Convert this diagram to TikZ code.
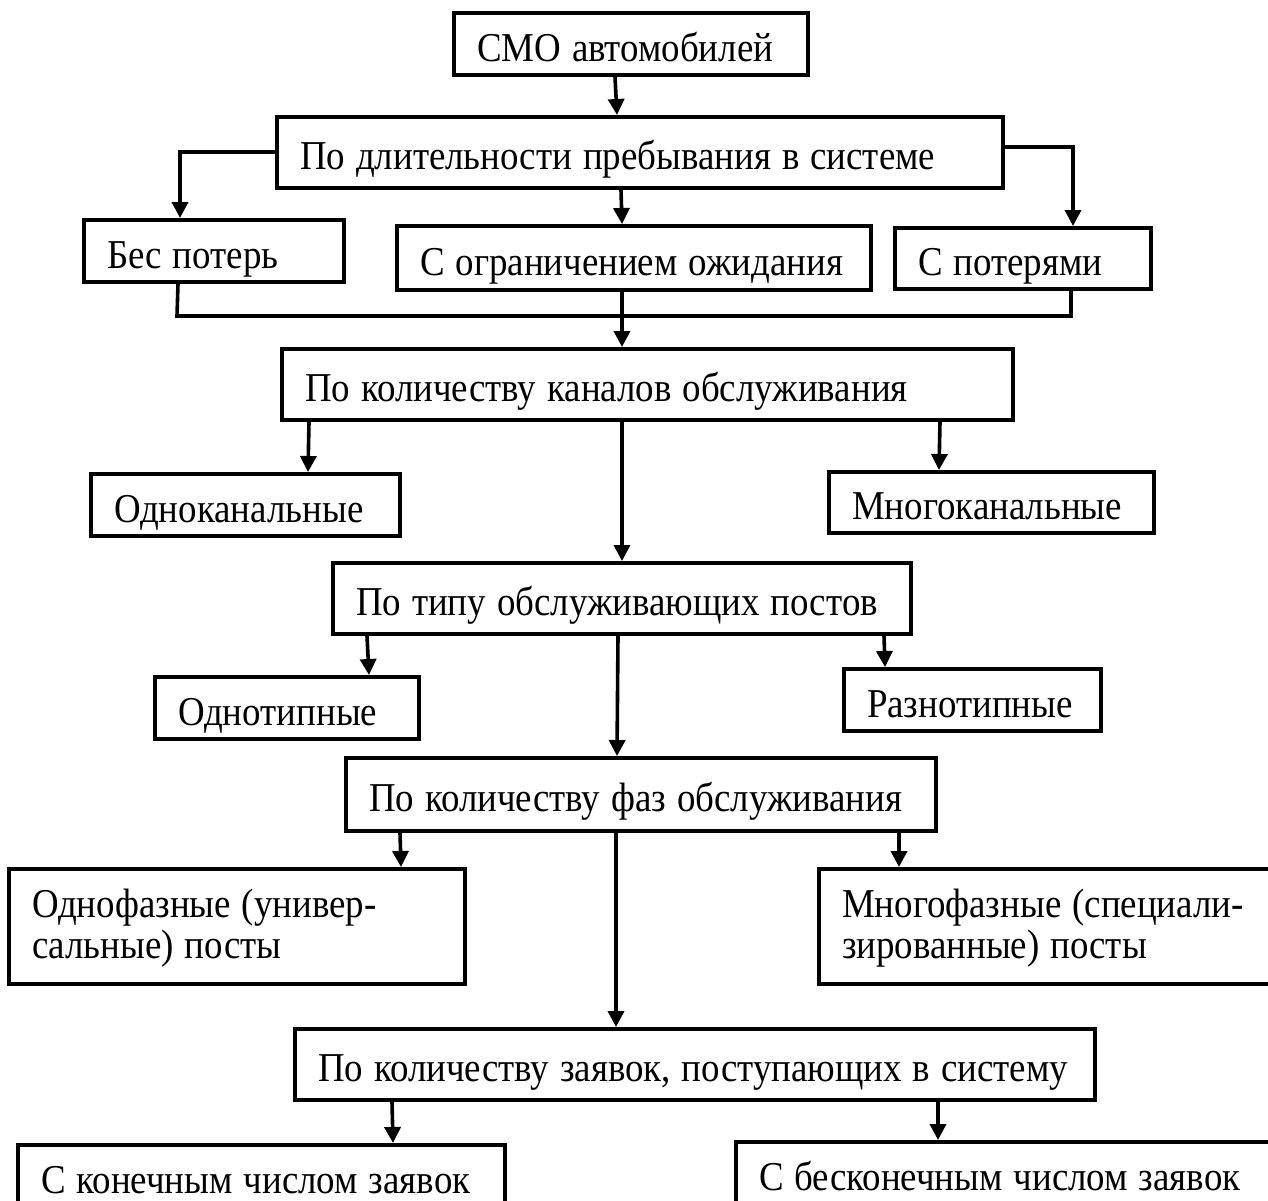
\documentclass[tikz,border=0pt]{standalone}
\usepackage{fontspec}
\setmainfont{Liberation Serif}[FakeStretch=0.9]
\usetikzlibrary{arrows.meta}
\protected\def\bxfont{\fontsize{41}{41}\selectfont}
\protected\def\tightspace{\bxfont\spaceskip=11pt\relax}
\begin{document}
\begin{tikzpicture}[x=1pt,y=-1pt,
  box/.style={draw, line width=4pt, inner xsep=23pt, inner ysep=0pt,
    align=left, text height=34pt, text depth=0pt,
    font={\bxfont}, execute at begin node={\tightspace}, anchor=center},
  twoline/.style={text depth=53pt},
  arr/.style={line width=3.6pt, -{Triangle[length=16pt,width=16pt]}},
  ln/.style={line width=3.6pt}]
\useasboundingbox (0,0) rectangle (1268,1200);
\clip (0,0) rectangle (1268,1200);

\node[box, minimum width=354pt, minimum height=62pt, text width=308pt] (cmo) at (631,44) {\mbox{СМО автомобилей}};
\node[box, minimum width=726pt, minimum height=71pt, text width=680pt] (dur) at (640,152.5) {\mbox{По длительности пребывания в системе}};
\node[box, minimum width=260pt, minimum height=62pt, text width=214pt] (bes) at (214,251) {\mbox{Бес потерь}};
\node[box, minimum width=474pt, minimum height=64pt, text width=428pt] (ogr) at (634,258) {\mbox{С ограничением ожидания}};
\node[box, minimum width=256pt, minimum height=61pt, text width=210pt] (pot) at (1023,258.5) {\mbox{С потерями}};
\node[box, minimum width=731pt, minimum height=71pt, text width=685pt] (kan) at (647.5,384.5) {\mbox{По количеству каналов обслуживания}};
\node[box, minimum width=309pt, minimum height=62pt, text width=263pt] (odnok) at (245.5,505) {\mbox{Одноканальные}};
\node[box, minimum width=325pt, minimum height=61pt, text width=279pt] (mnogok) at (991.5,502.5) {\mbox{Многоканальные}};
\node[box, minimum width=578pt, minimum height=71pt, text width=532pt] (tip) at (622,598.5) {\mbox{По типу обслуживающих постов}};
\node[box, minimum width=264pt, minimum height=62pt, text width=218pt] (odnot) at (287,708) {\mbox{Однотипные}};
\node[box, minimum width=257pt, minimum height=62pt, text width=211pt] (raznot) at (972.5,700) {\mbox{Разнотипные}};
\node[box, minimum width=590pt, minimum height=73pt, text width=544pt] (faz) at (641,794.5) {\mbox{По количеству фаз обслуживания}};
\node[box, twoline, minimum width=456pt, minimum height=115pt, text width=410pt] (odnof) at (237,926.5) {\mbox{Однофазные (универ-}\\\mbox{сальные) посты}};
\node[box, twoline, minimum width=466pt, minimum height=115pt, text width=420pt] (mnogof) at (1052,926.5) {\mbox{Многофазные (специали-}\\\mbox{зированные) посты}};
\node[box, minimum width=800pt, minimum height=71pt, text width=754pt] (zay) at (695,1064.5) {\mbox{По количеству заявок, поступающих в систему}};
\node[box, minimum width=487pt, minimum height=62pt, text width=441pt] (kon) at (261.5,1176) {\mbox{С конечным числом заявок}};
\node[box, minimum width=554pt, minimum height=62pt, text width=508pt] (besk) at (1013,1173) {\mbox{С бесконечным числом заявок}};

\coordinate (jl) at (177,316);
\coordinate (jr) at (1071,316);

\draw[arr] ([xshift=-16pt]cmo.south) -- ([xshift=-23pt]dur.north);
\draw[arr] ([yshift=0.5pt]dur.west) -| ([xshift=-34pt]bes.north);
\draw[arr] ([xshift=-19pt]dur.south) -- ([xshift=-12pt]ogr.north);
\draw[arr] ([yshift=5.5pt]dur.east) -| ([xshift=50pt]pot.north);
\draw[ln] ([xshift=-36pt]bes.south) -- (jl) -- (jr) -- ([xshift=48pt]pot.south);
\draw[arr] ([xshift=-12pt]ogr.south) -- ([xshift=-25.5pt]kan.north);
\draw[arr] ([xshift=-338.5pt]kan.south) -- ([xshift=62.5pt]odnok.north);
\draw[arr] ([xshift=292.5pt]kan.south) -- ([xshift=-52.5pt]mnogok.north);
\draw[arr] ([xshift=-25.5pt]kan.south) -- (tip.north);
\draw[arr] ([xshift=-255pt]tip.south) -- ([xshift=82pt]odnot.north);
\draw[arr] ([xshift=262pt]tip.south) -- ([xshift=-87.5pt]raznot.north);
\draw[arr] ([xshift=-4pt]tip.south) -- ([xshift=-24pt]faz.north);
\draw[arr] ([xshift=-241pt]faz.south) -- ([xshift=164pt]odnof.north);
\draw[arr] ([xshift=258pt]faz.south) -- ([xshift=-153pt]mnogof.north);
\draw[arr] ([xshift=-25pt]faz.south) -- ([xshift=-79pt]zay.north);
\draw[arr] ([xshift=-303pt]zay.south) -- ([xshift=131.5pt]kon.north);
\draw[arr] ([xshift=243pt]zay.south) -- ([xshift=-75pt]besk.north);
\end{tikzpicture}
\end{document}
